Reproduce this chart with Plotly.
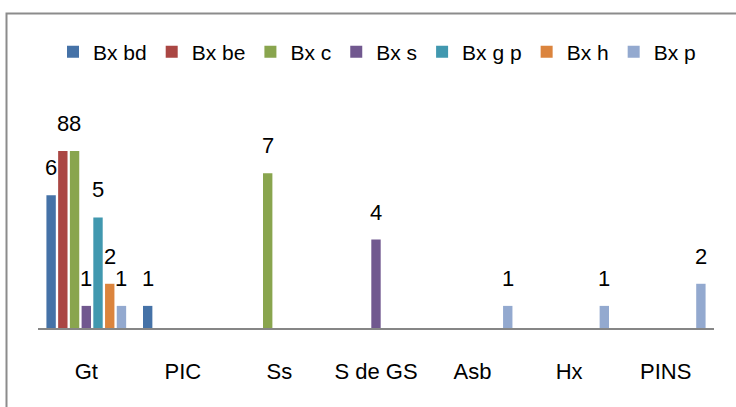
import plotly.graph_objects as go

categories = ["Gt", "PIC", "Ss", "S de GS", "Asb", "Hx", "PINS"]
series_names = ["Bx bd", "Bx be", "Bx c", "Bx s", "Bx g p", "Bx h", "Bx p"]
bx_bd = [6, 1, None, None, None, None, None]
bx_be = [8, None, None, None, None, None, None]
bx_c = [8, None, 7, None, None, None, None]
bx_s = [1, None, None, 4, None, None, None]
bx_gp = [5, None, None, None, None, None, None]
bx_h = [2, None, None, None, None, None, None]
bx_p = [1, None, None, None, 1, 1, 2]
series_values = [bx_bd, bx_be, bx_c, bx_s, bx_gp, bx_h, bx_p]
colors = ["#4572A7", "#AA4643", "#89A54E", "#71588F", "#4198AF", "#DB843D", "#93A9CF"]

FONT = "Liberation Sans, Arial, sans-serif"

W, H = 736, 407
ml, mr, mt, mb = 38, 22, 129, 79
pw = W - ml - mr
ph = H - mt - mb
bargap = 0.15

fig = go.Figure()
for name, vals, col in zip(series_names, series_values, colors):
    fig.add_trace(go.Bar(
        name=name, x=categories, y=vals, marker_color=col, marker_line_width=0,
        hoverinfo="skip",
    ))

# data labels, placed above each bar (slot offset within the group)
n = len(series_names)
cat_w = pw / len(categories)
slot_w = cat_w * (1 - bargap) / n
for i, vals in enumerate(series_values):
    for c, v in zip(categories, vals):
        if v is None:
            continue
        fig.add_annotation(
            x=c, y=v, xref="x", yref="y", text=str(v), showarrow=False,
            xanchor="center", yanchor="bottom",
            xshift=(i - (n - 1) / 2) * slot_w, yshift=13,
            font=dict(family=FONT, size=22, color="#000000"),
        )

fig.update_layout(
    width=W, height=H,
    margin=dict(l=ml, r=mr, t=mt, b=mb, autoexpand=False),
    paper_bgcolor="white", plot_bgcolor="white",
    barmode="group", bargap=bargap, bargroupgap=0.2,
    font=dict(family=FONT, size=22, color="#000000"),
    showlegend=True,
    legend=dict(orientation="h", x=(53 - ml) / pw, xanchor="left", y=1.387, yanchor="middle",
                font=dict(family=FONT, size=21), itemwidth=30,
                bgcolor="rgba(0,0,0,0)", borderwidth=0),
    xaxis=dict(showline=True, linecolor="#868686", linewidth=2, ticks="",
               showgrid=False, tickfont=dict(family=FONT, size=22), ticklabelstandoff=23),
    yaxis=dict(range=[0, 9], visible=False, showgrid=False),
)

fig.add_shape(type="rect", xref="paper", yref="paper",
              x0=(6.5 - ml) / pw, x1=(W + 20 - ml) / pw,
              y0=(H - mb - (H + 20)) / ph, y1=(H - mb - 13.5) / ph,
              line=dict(color="#8C8C8C", width=2), fillcolor="rgba(0,0,0,0)", layer="below")

fig.write_html("out.html", config={"displayModeBar": False},
               post_script="document.body.style.margin='0';")
